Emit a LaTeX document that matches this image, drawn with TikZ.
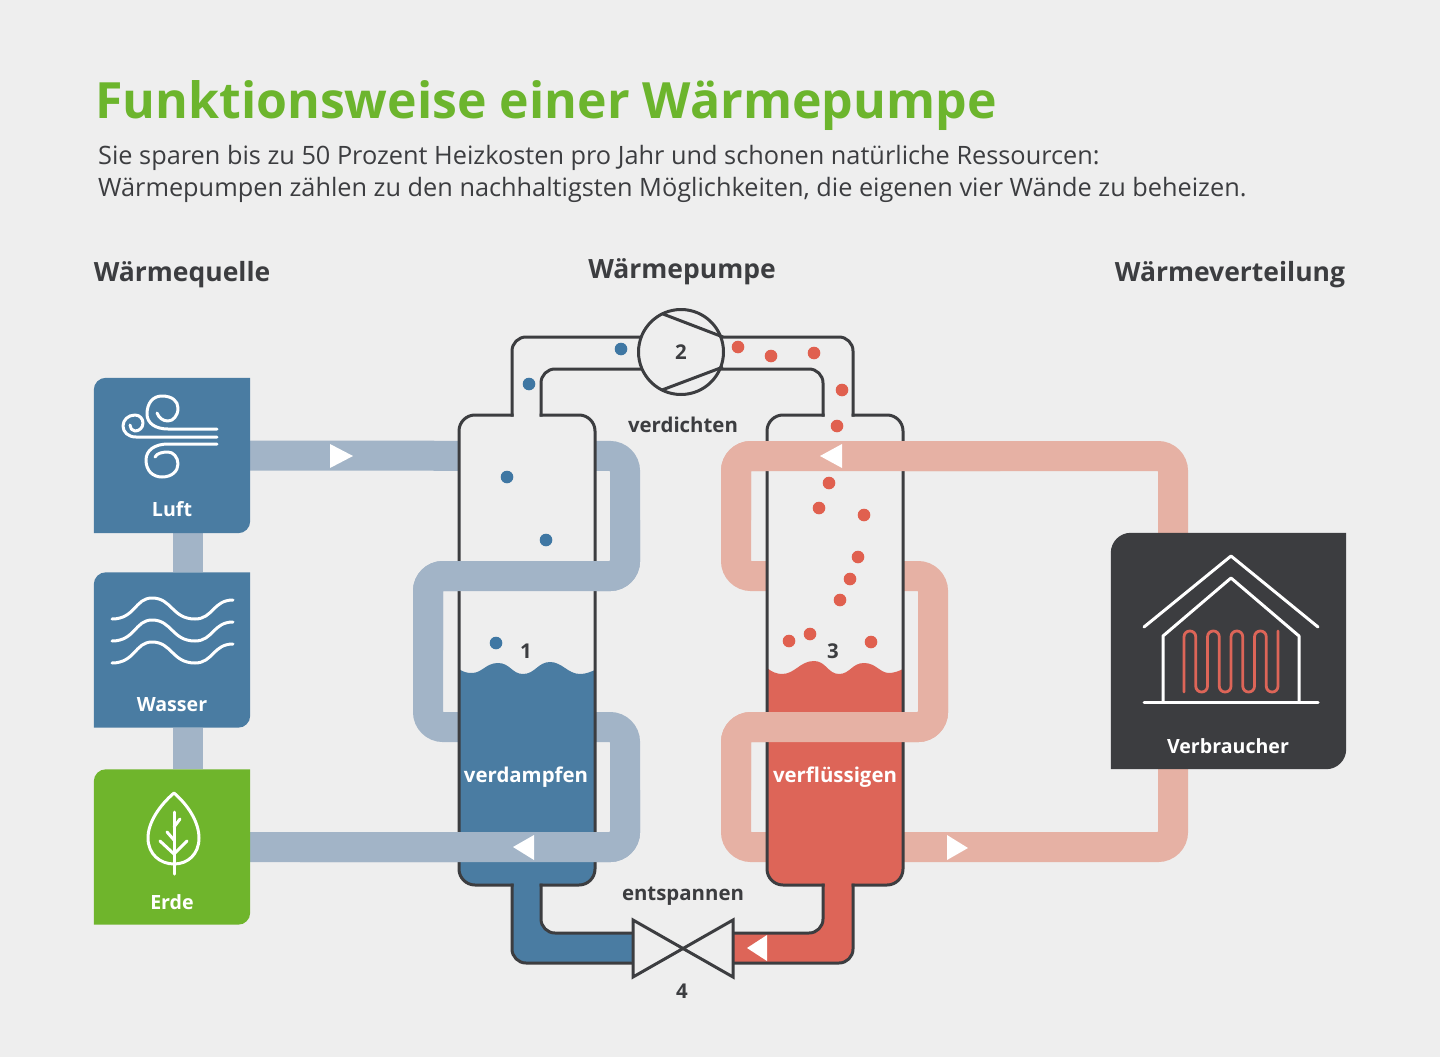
\documentclass[tikz,border=0pt]{standalone}
\usepackage{fontspec}
\setmainfont{Open Sans}
\usetikzlibrary{arrows.meta}
\definecolor{bgc}{HTML}{EEEEEE}
\definecolor{inkc}{HTML}{3C3D40}
\definecolor{titlec}{HTML}{6CB52D}
\definecolor{bluec}{HTML}{4A7CA2}
\definecolor{redc}{HTML}{DD6558}
\definecolor{greenc}{HTML}{6FB52C}
\definecolor{pipebc}{HTML}{A2B4C7}
\definecolor{piperc}{HTML}{E6B1A4}
\definecolor{dotbc}{HTML}{3F77A3}
\definecolor{dotrc}{HTML}{E0604F}
\newcommand{\fs}[1]{\fontsize{#1}{#1}\selectfont}
\newcommand{\cardfill}[3]{\fill[#2] (#1.south west) -- ([yshift=-#3]#1.north west) arc[start angle=180,end angle=90,radius=#3] -- (#1.north east) -- ([yshift=#3]#1.south east) arc[start angle=0,end angle=-90,radius=#3] -- cycle;}
\begin{document}
\begin{tikzpicture}[x=1pt,y=-1pt,
  card/.style={inner sep=0pt,minimum width=156pt,minimum height=155pt},
  cardname/.style={text=white,font=\fs{19.6}\bfseries},
  pipeb/.style={draw=pipebc,line width=30pt,rounded corners=15pt},
  piper/.style={draw=piperc,line width=30pt,rounded corners=15pt},
  wall/.style={draw=inkc,line width=3pt,line cap=rect},
  icon/.style={draw=white,line width=3pt,line cap=round,line join=round},
  flowtip/.style={fill=white},
  stage/.style={text=inkc,font=\fs{20.4}\bfseries},
  head/.style={text=inkc,font=\fs{26.5}\bfseries}]
\fill[bgc] (0,0) rectangle (1440,1057);
\node[anchor=west,text=titlec,font=\fs{50}\bfseries,inner sep=0pt] (title) at (95,106) {Funktionsweise einer Wärmepumpe};
\node[anchor=west,text=inkc,font=\fs{25.3},inner sep=0pt] (intro1) at (98,158) {Sie sparen bis zu 50 Prozent Heizkosten pro Jahr und schonen natürliche Ressourcen:};
\node[anchor=west,text=inkc,font=\fs{25.3},inner sep=0pt] (intro2) at (98,190) {Wärmepumpen zählen zu den nachhaltigsten Möglichkeiten, die eigenen vier Wände zu beheizen.};
\node[head] (quelle) at (182,275) {Wärmequelle};
\node[head] (pumpe) at (682,272) {Wärmepumpe};
\node[head] (verteilung) at (1230,275) {Wärmeverteilung};

\node[card] (luft) at (172,455.5) {};
\node[card] (wasser) at (172,650) {};
\node[card] (erde) at (172,847) {};
\node[card,minimum width=235pt,minimum height=236pt] (verbraucher) at (1228.5,651) {};
\draw[pipeb,rounded corners=0pt] ([xshift=16pt]luft.south) -- ([xshift=16pt]wasser.north);
\draw[pipeb,rounded corners=0pt] ([xshift=16pt]wasser.south) -- ([xshift=16pt]erde.north);
\draw[pipeb] (luft.east) -- (625,456) -- (625,576) -- (428,576) -- (428,727) -- (625,727) -- (625,847) -- (erde.east);
\draw[piper] ([xshift=-55.5pt]verbraucher.north) -- (1173,456) -- (736,456) -- (736,576) -- (933,576) -- (933,727) -- (736,727) -- (736,847) -- (1173,847) -- ([xshift=-55.5pt]verbraucher.south);
\cardfill{luft}{bluec}{12pt}
\cardfill{wasser}{bluec}{12pt}
\cardfill{erde}{greenc}{12pt}
\cardfill{verbraucher}{inkc}{20pt}

\fill[bgc,rounded corners=16pt] (459,415) rectangle (595,885);
\fill[bgc,rounded corners=16pt] (767,415) rectangle (903,885);
\begin{scope}
\clip[rounded corners=16pt] (459,415) rectangle (595,885);
\fill[bluec] (459,669) .. controls (463,672) and (467,673) .. (472,673) .. controls (482,673) and (486,663) .. (498,663) .. controls (510,663) and (512,674) .. (523,674) .. controls (535,674) and (538,662) .. (550,662) .. controls (562,662) and (568,674) .. (580,674) .. controls (586,674) and (590,672) .. (595,670) -- (595,885) -- (459,885) -- cycle;
\end{scope}
\begin{scope}
\clip[rounded corners=16pt] (767,415) rectangle (903,885);
\fill[redc] (767,668) .. controls (772,672) and (777,674) .. (782,674) .. controls (795,674) and (800,661) .. (814,661) .. controls (826,661) and (828,674) .. (839,674) .. controls (850,674) and (852,663) .. (864,663) .. controls (876,663) and (880,673) .. (889,673) .. controls (894,673) and (899,671) .. (903,669) -- (903,885) -- (767,885) -- cycle;
\end{scope}
\fill[bluec,rounded corners=14pt] (512,870) -- (512,963) -- (640,963) -- (640,933) -- (541,933) -- (541,870) -- cycle;
\fill[redc,rounded corners=14pt] (853,870) -- (853,963) -- (726,963) -- (726,933) -- (823,933) -- (823,870) -- cycle;

\draw[wall,rounded corners=16pt] (512,415) -- (459,415) -- (459,885) -- (512,885);
\draw[wall,rounded corners=16pt] (541,415) -- (595,415) -- (595,885) -- (541,885);
\draw[wall,rounded corners=16pt] (823,415) -- (767,415) -- (767,885) -- (823,885);
\draw[wall,rounded corners=16pt] (853,415) -- (903,415) -- (903,885) -- (853,885);
\draw[wall,rounded corners=14pt] (512,415) -- (512,337) -- (650,337);
\draw[wall,rounded corners=14pt] (541,415) -- (541,369) -- (650,369);
\draw[wall,rounded corners=14pt] (823,415) -- (823,369) -- (712,369);
\draw[wall,rounded corners=14pt] (853,415) -- (853,337) -- (712,337);
\draw[wall,rounded corners=14pt] (512,885) -- (512,963) -- (640,963);
\draw[wall,rounded corners=14pt] (541,885) -- (541,933) -- (640,933);
\draw[wall,rounded corners=14pt] (823,885) -- (823,933) -- (726,933);
\draw[wall,rounded corners=14pt] (853,885) -- (853,963) -- (726,963);
\node[circle,draw=inkc,fill=bgc,line width=3pt,minimum size=85pt,inner sep=0pt,text=inkc,font=\fs{20.4}\bfseries] (verdichter) at (681,352) {2};
\draw[inkc,line width=3pt] (663,314) -- (723,337);
\draw[inkc,line width=3pt] (662,390) -- (723,367);
\draw[wall,fill=bgc,line join=miter] (633,920) -- (733,977) -- (733,920) -- (633,977) -- cycle;

\draw[pipeb] (625,520) -- (625,576) -- (428,576) -- (428,650);
\draw[pipeb] (625,790) -- (625,847) -- (300,847);
\draw[piper] (1000,456) -- (736,456) -- (736,520);
\draw[piper] (933,660) -- (933,727) -- (736,727) -- (736,790);

\fill[flowtip] (330,444) -- (353,456) -- (330,468) -- cycle;
\fill[flowtip] (842,444) -- (820,456) -- (842,468) -- cycle;
\fill[flowtip] (534,835) -- (513,847) -- (534,860) -- cycle;
\fill[flowtip] (947,835) -- (968,848) -- (947,860) -- cycle;
\fill[flowtip] (767,935) -- (747,948) -- (767,961) -- cycle;

\foreach \px/\py in {621/349,529/384,507/477,546/540,496/643}
  \fill[dotbc] (\px,\py) circle[radius=6.3pt];
\foreach \px/\py in {738/347,771/356,814/353,842/390,837/426,829/483,819/508,864/515,858/557,850/579,840/600,789/641,810/634,871/642}
  \fill[dotrc] (\px,\py) circle[radius=6.3pt];

\node[stage] (eins) at (526,651) {1};
\node[stage] (drei) at (833,651) {3};
\node[stage] (vier) at (682,991) {4};
\node[stage] (verdichten) at (683,425) {verdichten};
\node[stage] (entspannen) at (683,896) {entspannen};
\node[stage,text=white] (verdampfen) at (526,777) {verdampfen};
\node[stage,text=white] (verfluessigen) at (835,777) {verflüssigen};
\node[cardname] (luftname) at (172,509) {Luft};
\node[cardname] (wassername) at (172,705) {Wasser};
\node[cardname] (erdename) at (172,902) {Erde};
\node[cardname] (verbrauchername) at (1228,746) {Verbraucher};

\draw[icon] (217,429) -- (168,429) .. controls (155,429) and (147,423) .. (147,414) .. controls (147,403) and (153,396) .. (162,396) .. controls (172,396) and (178,401) .. (178,408) .. controls (178,416) and (173,421) .. (168,421) .. controls (163,421) and (159,418) .. (157,413);
\draw[icon] (217,437) -- (136,437) .. controls (128,437) and (123,432) .. (123,426) .. controls (123,420) and (128,415) .. (135,415) .. controls (140,415) and (143,419) .. (143,423) .. controls (143,428) and (139,431) .. (135,431) .. controls (132,431) and (130,428) .. (130,425);
\draw[icon] (217,444) -- (168,444) .. controls (155,444) and (146,450) .. (146,460) .. controls (146,471) and (153,477) .. (162,477) .. controls (172,477) and (178,471) .. (178,464) .. controls (178,457) and (173,452) .. (168,452) .. controls (163,452) and (157,453) .. (155,457);
\foreach \dy in {0,22,44}
  \draw[icon] (112,619+\dy) .. controls (135,619+\dy) and (135,598+\dy) .. (152,598+\dy) .. controls (172,598+\dy) and (172,619+\dy) .. (195,619+\dy) .. controls (213,619+\dy) and (213,600+\dy) .. (233,600+\dy);
\draw[icon] (174,793) .. controls (160,805) and (148,822) .. (148,838) .. controls (148,854) and (160,864) .. (174,864) .. controls (188,864) and (199,854) .. (199,838) .. controls (199,822) and (188,805) .. (174,793) -- cycle;
\draw[icon] (174,812) -- (174,874);
\draw[icon] (160,841) -- (174,854) -- (187,841);
\draw[icon] (167,832) -- (174,840);
\draw[icon] (180,819) -- (174,827);
\draw[icon] (1144,627) -- (1231,556) -- (1318,627);
\draw[icon,line cap=butt] (1163,702) -- (1163,636) -- (1231,578) -- (1299,636) -- (1299,702);
\draw[icon] (1144,702) -- (1318,702);
\draw[draw=redc,line width=2.8pt,rounded corners=5.8pt,line cap=round] (1184,692) -- ++(0,-61) \foreach \n in {1,2,3,4}{ -- ++(11.75,0) -- ++(0,61) -- ++(11.75,0) -- ++(0,-61)};
\end{tikzpicture}
\end{document}
